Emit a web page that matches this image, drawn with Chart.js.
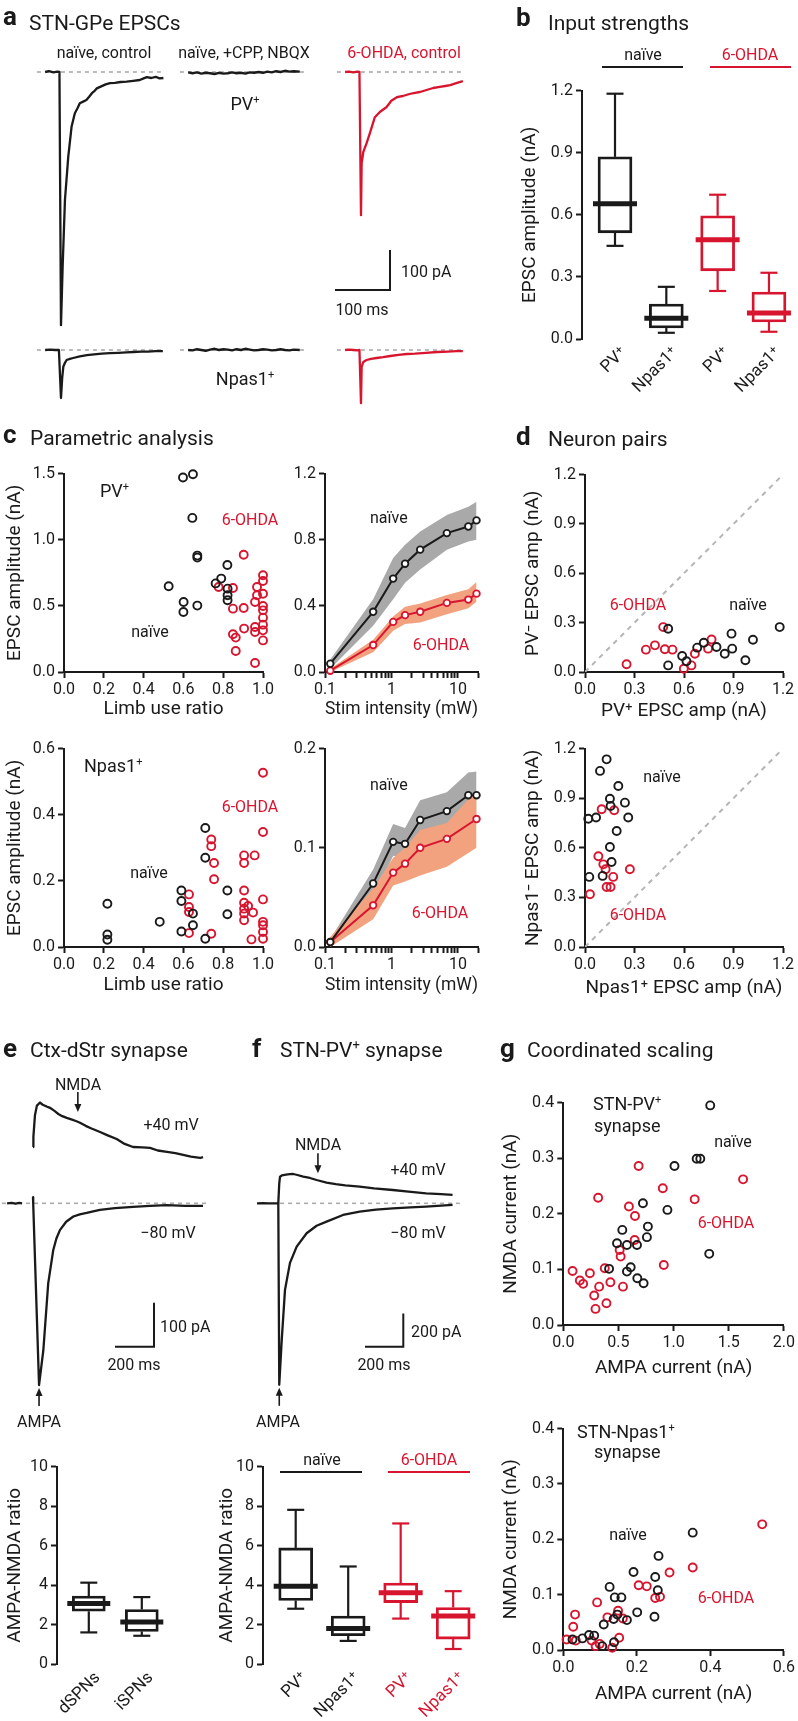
<!DOCTYPE html>
<html>
<head>
<meta charset="utf-8">
<title>STN-GPe synapse figure</title>
<script src="https://cdn.jsdelivr.net/npm/chart.js@4.4.1/dist/chart.umd.min.js"></script>
<style>
html, body { margin:0; padding:0; background:#fff; }
#root { position:relative; width:798px; height:1721px; overflow:hidden; background:#fff; }
#root canvas { position:absolute; }
#ann { position:absolute; left:0; top:0; z-index:5; pointer-events:none; }
</style>
</head>
<body>
<div id="root">
<svg id="ann" width="798" height="1721" viewBox="0 0 798 1721" font-family="Roboto, sans-serif" fill="#1a1a1a">
<g font-weight="bold" font-size="26">
<text x="3" y="25">a</text>
<text x="516" y="26">b</text>
<text x="3" y="443">c</text>
<text x="516" y="445">d</text>
<text x="3" y="1057">e</text>
<text x="252" y="1057">f</text>
<text x="500" y="1057">g</text>
</g>
<g font-size="21">
<text x="29" y="30">STN-GPe EPSCs</text>
<text x="548" y="30">Input strengths</text>
<text x="30" y="445">Parametric analysis</text>
<text x="548" y="446">Neuron pairs</text>
<text x="30" y="1057">Ctx-dStr synapse</text>
<text x="280" y="1057">STN-PV<tspan font-size="13" dy="-8">+</tspan><tspan dy="8"> synapse</tspan></text>
<text x="527" y="1057">Coordinated scaling</text>
</g>
<g font-size="16" text-anchor="middle">
<text x="104" y="58">naïve, control</text>
<text x="244" y="58">naïve, +CPP, NBQX</text>
<text x="404" y="58" fill="#d8152f">6-OHDA, control</text>
<text x="245" y="110" font-size="18">PV<tspan font-size="11" dy="-7">+</tspan></text>
<text x="245" y="385" font-size="18">Npas1<tspan font-size="11" dy="-7">+</tspan></text>
<text x="362" y="315">100 ms</text>
<text x="401" y="277" text-anchor="start">100 pA</text>

<text x="643" y="60">naïve</text>
<text x="750" y="60" fill="#d8152f">6-OHDA</text>

<text x="100" y="497" font-size="18" text-anchor="start">PV<tspan font-size="11" dy="-7">+</tspan></text>
<text x="250" y="525" fill="#d8152f">6-OHDA</text>
<text x="150" y="637">naïve</text>
<text x="370" y="523" text-anchor="start">naïve</text>
<text x="441" y="650" fill="#d8152f">6-OHDA</text>

<text x="84" y="772" font-size="18" text-anchor="start">Npas1<tspan font-size="11" dy="-7">+</tspan></text>
<text x="250" y="812" fill="#d8152f">6-OHDA</text>
<text x="149" y="878">naïve</text>
<text x="370" y="790" text-anchor="start">naïve</text>
<text x="440" y="918" fill="#d8152f">6-OHDA</text>

<text x="638" y="610" fill="#d8152f">6-OHDA</text>
<text x="748" y="610">naïve</text>
<text x="662" y="782">naïve</text>
<text x="638" y="920" fill="#d8152f">6-OHDA</text>

<text x="78" y="1090">NMDA</text>
<text x="171" y="1130">+40 mV</text>
<text x="168" y="1238">−80 mV</text>
<text x="160" y="1332" text-anchor="start">100 pA</text>
<text x="134" y="1370">200 ms</text>
<text x="39" y="1427">AMPA</text>

<text x="318" y="1150">NMDA</text>
<text x="418" y="1175">+40 mV</text>
<text x="418" y="1238">−80 mV</text>
<text x="411" y="1337" text-anchor="start">200 pA</text>
<text x="384" y="1370">200 ms</text>
<text x="278" y="1427">AMPA</text>

<text x="322" y="1465">naïve</text>
<text x="429" y="1465" fill="#d8152f">6-OHDA</text>

<text x="593" y="1110" font-size="18" text-anchor="start">STN-PV<tspan font-size="11" dy="-7">+</tspan></text>
<text x="594" y="1132" font-size="18" text-anchor="start">synapse</text>
<text x="733" y="1147">naïve</text>
<text x="726" y="1228" fill="#d8152f">6-OHDA</text>

<text x="577" y="1438" font-size="18" text-anchor="start">STN-Npas1<tspan font-size="11" dy="-7">+</tspan></text>
<text x="594" y="1458" font-size="18" text-anchor="start">synapse</text>
<text x="628" y="1540">naïve</text>
<text x="726" y="1603" fill="#d8152f">6-OHDA</text>
</g>
<g stroke-width="2.2">
<line x1="602" y1="67" x2="683" y2="67" stroke="#1a1a1a"/>
<line x1="710" y1="67" x2="791" y2="67" stroke="#d8152f"/>
<line x1="280" y1="1472" x2="362" y2="1472" stroke="#1a1a1a"/>
<line x1="388" y1="1472" x2="470" y2="1472" stroke="#d8152f"/>
</g>
</svg>
</div>
<script>
// ======================= DATA =======================
// --- Panel a: example EPSC traces (time in ms from stimulus, current in pA)
const aPvNaiveT = [-27,-20,-12,-5,-1,1.8,4.8,9,15,21,27,32,36,42,48,53,58,63,67,75,83,91,100,110,121,133,145,152,158,166,174,181,188];
const aPvNaiveI = [0,2,-1,1,0,-633,-487,-320,-212,-137,-103,-90,-78,-74,-70,-62,-53,-47,-41,-36,-31,-28,-27,-25,-24,-22,-20,-16,-13,-15,-12,-16,-15];
const aCppT     = [-27,-19,-11,-3,5,13,21,29,37,45,53,61,69,77,85,93,101,109,117,125,133,141,149,157,165,176];
const aPvCppI   = [-1,-3,-1,-4,-2,-3,-5,-2,-4,-3,-1,-3,-2,-4,-1,-2,0,-2,1,-1,2,0,3,1,2,1];
const aNpCppI   = [0,-1,2,0,-2,1,3,0,2,1,-1,2,0,3,1,-1,0,2,1,-1,0,2,0,-1,1,0];
const aPvOhdaT  = [-27,-20,-12,-5,-1,1.8,3,6,12,18,27,36,48,57,67,78,90,100,109,121,133,145,155,164,175,187];
const aPvOhdaI  = [0,1,-1,1,0,-358,-228,-200,-178,-153,-113,-100,-88,-72,-63,-60,-55,-52,-50,-45,-40,-37,-35,-33,-28,-23];
const aNpNaiveT = [-27,-18,-9,-2,1.8,4,6,9,12,18,24,36,49,62,76,91,106,121,133,148,160,174,187];
const aNpNaiveI = [0,1,0,0,-120,-70,-42,-32,-25,-22,-20,-16,-13,-11,-9,-8,-7,-6,-5,-4,-4,-3,-3];
const aNpOhdaT  = [-27,-20,-12,-5,-1,1.8,3,6,12,20,30,42,55,70,85,100,120,140,160,175,187];
const aNpOhdaI  = [0,1,0,-1,0,-133,-42,-30,-25,-22,-20,-18,-15,-12,-10,-9,-7,-5,-4,-3,-3];
const aBaseT    = [-42, 190];
const aScaleMs = 100, aScalePA = 100;

// --- Panel b: input strengths (nA), box statistics
const bCats = ['PV⁺', 'Npas1⁺', 'PV⁺', 'Npas1⁺'];
const bLo  = [0.45, 0.03, 0.232, 0.035];
const bQ1  = [0.513, 0.053, 0.329, 0.082];
const bMed = [0.653, 0.10, 0.479, 0.126];
const bQ3  = [0.88, 0.169, 0.595, 0.227];
const bHi  = [1.185, 0.252, 0.697, 0.32];
const bYTicks = [0, 0.3, 0.6, 0.9, 1.2];

// --- Panel c: parametric analysis
const cLimbTicks = [0, 0.2, 0.4, 0.6, 0.8, 1.0];
const cPvYTicks = [0, 0.5, 1.0, 1.5];
const cNpYTicks = [0, 0.2, 0.4, 0.6];
const cPvNaiveX = [0.598,0.648,0.645,0.67,0.67,0.526,0.601,0.6,0.67,0.821,0.79,0.762,0.822,0.822,0.822];
const cPvNaiveY = [1.47,1.495,1.165,0.88,0.865,0.648,0.529,0.454,0.502,0.809,0.706,0.67,0.63,0.58,0.542];
const cPvOhdaX  = [0.903,0.777,0.849,0.849,0.903,0.849,0.863,0.863,0.905,0.96,0.96,0.96,0.96,0.97,0.97,1.0,1.0,1.0,1.0,1.0,1.0,1.0,1.0,1.0];
const cPvOhdaY  = [0.887,0.643,0.635,0.479,0.484,0.285,0.26,0.159,0.328,0.068,0.34,0.302,0.529,0.643,0.58,0.731,0.688,0.592,0.499,0.466,0.411,0.358,0.315,0.239];
const cNpNaiveX = [0.218,0.218,0.218,0.481,0.59,0.59,0.59,0.648,0.648,0.71,0.71,0.71,0.821,0.821];
const cNpNaiveY = [0.131,0.038,0.022,0.076,0.171,0.139,0.047,0.101,0.066,0.36,0.27,0.025,0.171,0.099];
const cNpOhdaX  = [1.0,1.0,1.0,1.0,1.0,1.0,1.0,0.74,0.74,0.754,0.754,0.74,0.628,0.628,0.628,0.628,0.905,0.905,0.958,0.905,0.905,0.905,0.905,0.905,0.925,0.95,0.942];
const cNpOhdaY  = [0.527,0.348,0.144,0.076,0.066,0.045,0.025,0.325,0.305,0.254,0.205,0.04,0.159,0.121,0.106,0.042,0.277,0.254,0.277,0.171,0.134,0.116,0.101,0.081,0.124,0.104,0.023];
// stimulus–response (mW vs nA)
const cStimTicks  = [0.1,0.2,0.3,0.4,0.5,0.6,0.7,0.8,0.9,1,2,3,4,5,6,7,8,9,10,20];
const cStimMajor  = [0.1, 1, 10];
const cPvStimYTicks = [0, 0.4, 0.8, 1.2];
const cNpStimYTicks = [0, 0.1, 0.2];
const cStim       = [0.12, 0.53, 1.06, 1.6, 2.7, 6.8, 14.3, 19];
const cPvNaiveMean = [0.05, 0.364, 0.565, 0.655, 0.74, 0.84, 0.88, 0.917];
const cPvNaiveLo   = [0.02, 0.28, 0.44, 0.54, 0.62, 0.74, 0.79, 0.80];
const cPvNaiveHi   = [0.075, 0.44, 0.69, 0.77, 0.85, 0.95, 1.0, 1.03];
const cPvOhdaMean  = [0.008, 0.163, 0.303, 0.344, 0.364, 0.418, 0.438, 0.474];
const cPvOhdaLo    = [0.0, 0.12, 0.25, 0.29, 0.30, 0.35, 0.385, 0.425];
const cPvOhdaHi    = [0.02, 0.195, 0.335, 0.395, 0.415, 0.465, 0.5, 0.545];
const cNpNaiveMean = [0.005, 0.064, 0.106, 0.104, 0.128, 0.137, 0.153, 0.153];
const cNpNaiveLo   = [0.003, 0.05, 0.092, 0.09, 0.112, 0.118, 0.128, 0.13];
const cNpNaiveHi   = [0.008, 0.078, 0.124, 0.12, 0.148, 0.156, 0.176, 0.177];
const cStimOhdaNp  = [0.12, 0.53, 1.06, 1.6, 2.7, 6.8, 19];
const cNpOhdaMean  = [0.005, 0.042, 0.075, 0.084, 0.1, 0.109, 0.129];
const cNpOhdaLo    = [0.0, 0.028, 0.062, 0.066, 0.072, 0.081, 0.1];
const cNpOhdaHi    = [0.01, 0.059, 0.09, 0.1, 0.118, 0.125, 0.158];

// --- Panel d: neuron pairs (nA)
const dTicks = [0, 0.3, 0.6, 0.9, 1.2];
const dUnity = [0, 1.2];
const dPvNaiveX = [0.504,0.504,0.589,0.615,0.68,0.72,0.797,0.847,0.888,0.892,0.972,1.018,1.18];
const dPvNaiveY = [0.263,0.04,0.097,0.065,0.148,0.178,0.152,0.111,0.233,0.142,0.071,0.196,0.273];
const dPvOhdaX  = [0.252,0.369,0.424,0.474,0.484,0.53,0.599,0.645,0.666,0.746,0.767];
const dPvOhdaY  = [0.047,0.136,0.162,0.273,0.138,0.136,0.02,0.04,0.111,0.142,0.198];
const dNpNaiveX = [0.02,0.067,0.091,0.131,0.026,0.107,0.151,0.155,0.202,0.242,0.262,0.192,0.151,0.161];
const dNpNaiveY = [0.776,0.783,1.065,1.135,0.424,0.43,0.897,0.853,0.974,0.873,0.783,0.702,0.605,0.514];
const dNpOhdaX  = [0.03,0.101,0.177,0.081,0.111,0.125,0.131,0.155,0.171,0.272];
const dNpOhdaY  = [0.319,0.833,0.827,0.549,0.5,0.47,0.363,0.363,0.424,0.47];

// --- Panel e: Ctx-dStr traces (ms, pA) and AMPA-NMDA ratios
const ePlusT = [0,2,10,20,36,50,70,87,110,130,150,173,200,220,241,270,300,344,380,429,470,513,560,600,640,687,730,770,810,857,872];
const ePlusI = [128,151,200,222,229,224,220,217,210,203,198,194,190,187,183,176,170,162,155,146,135,128,127,126,120,117,114,110,106,103,105];
const eM80T  = [-133,-110,-90,-70,-56,-30,0,1,31,53,78,104,120,138,170,207,240,275,343,420,513,600,687,780,872];
const eM80I  = [0,1,-1,1,0,null,14,0,-413,-334,-182,-106,-80,-61,-42,-30,-25,-22,-15,-11,-8,-6,-4,-6,-6];
const eBaseT = [-159, 908];
const eNmdaT = 230, eAmpaT = 31;
const eScaleMs = 200, eScalePA = 100;
const eCats = ['dSPNs', 'iSPNs'];
const eLo  = [1.6, 1.43];
const eQ1  = [2.67, 1.65];
const eMed = [3.07, 2.13];
const eQ3  = [3.44, 2.76];
const eHi  = [4.12, 3.39];
const ratioTicks = [0, 2, 4, 6, 8, 10];

// --- Panel f: STN-PV+ traces and ratios
const fPlusT = [0,5,9,20,40,60,78,100,130,165,200,252,300,350,425,500,598,680,772,850,910];
const fPlusI = [0,120,160,168,172,175,176,170,160,152,140,124,115,108,100,90,80,70,60,55,50];
const fM80T  = [-111,-80,-50,-20,0,5,18,35,61,96,148,200,252,338,425,510,598,690,772,850,910];
const fM80I  = [0,1,0,-1,0,-1090,-820,-520,-358,-260,-180,-135,-110,-70,-50,-38,-30,-25,-20,-14,-10];
const fBaseT = [9, 948];
const fNmdaT = 207, fAmpaT = 5;
const fScaleMs = 200, fScalePA = 200;
const fCats = ['PV⁺', 'Npas1⁺', 'PV⁺', 'Npas1⁺'];
const fLo  = [2.8, 1.17, 2.3, 0.76];
const fQ1  = [3.22, 1.43, 3.11, 1.26];
const fMed = [3.94, 1.8, 3.61, 2.43];
const fQ3  = [5.88, 2.43, 4.1, 2.86];
const fHi  = [7.81, 4.94, 7.12, 3.69];

// --- Panel g: coordinated scaling (nA)
const gPvXTicks = [0, 0.5, 1.0, 1.5, 2.0];
const gNpXTicks = [0, 0.2, 0.4, 0.6];
const gYTicks   = [0, 0.1, 0.2, 0.3, 0.4];
const gPvNaiveX = [1.332,1.209,1.242,1.008,0.944,1.323,0.722,0.767,0.758,0.535,0.487,0.577,0.668,0.415,0.611,0.577,0.671,0.728];
const gPvNaiveY = [0.395,0.299,0.299,0.286,0.207,0.128,0.219,0.177,0.158,0.171,0.147,0.144,0.144,0.101,0.104,0.096,0.084,0.075];
const gPvOhdaX  = [0.084,0.15,0.18,0.241,0.316,0.28,0.325,0.292,0.376,0.391,0.427,0.511,0.52,0.541,0.595,0.65,0.647,0.683,0.902,0.911,1.191,1.63];
const gPvOhdaY  = [0.097,0.08,0.074,0.093,0.229,0.053,0.069,0.029,0.102,0.039,0.077,0.135,0.123,0.069,0.213,0.196,0.153,0.286,0.246,0.108,0.226,0.262];
const gNpNaiveX = [0.352,0.259,0.257,0.25,0.248,0.191,0.201,0.173,0.126,0.14,0.158,0.147,0.137,0.11,0.138,0.106,0.07,0.084,0.052,0.025];
const gNpNaiveY = [0.212,0.17,0.108,0.132,0.06,0.141,0.068,0.054,0.114,0.095,0.095,0.064,0.056,0.046,0.014,0.007,0.027,0.026,0.021,0.019];
const gNpOhdaX  = [0.541,0.352,0.289,0.205,0.227,0.25,0.263,0.092,0.032,0.027,0.12,0.149,0.162,0.009,0.034,0.077,0.088,0.099,0.133,0.152];
const gNpOhdaY  = [0.227,0.149,0.14,0.117,0.115,0.094,0.096,0.086,0.064,0.042,0.059,0.071,0.057,0.019,0.017,0.017,0.007,0.011,0.004,0.022];

// ======================= STYLE / HELPERS =======================
const INK = '#1a1a1a', RED = '#d8152f', DASH = '#ababab', GRAYBAND = '#a9a9a9', ORANGEBAND = '#f2a27f';
Chart.defaults.font.family = 'Roboto, "Open Sans", sans-serif';
Chart.defaults.color = INK;
Chart.defaults.plugins.legend.display = false;
Chart.defaults.plugins.tooltip.enabled = false;
Chart.defaults.animation = false;

const root = document.getElementById('root');
function mkCanvas(l, t, w, h) {
  const c = document.createElement('canvas');
  c.width = w; c.height = h;
  c.style.left = l + 'px'; c.style.top = t + 'px';
  c.style.width = w + 'px'; c.style.height = h + 'px';
  root.appendChild(c);
  return c;
}
function fitGeo(area, pad) {
  const left = Math.round(area.l - pad.yw), top = Math.round(area.t - pad.top);
  const w = Math.round(area.r - left + pad.right), h = Math.round(area.b - top + pad.xh);
  return {left, top, w, h, yw: area.l - left, tp: area.t - top, rp: w - (area.r - left), xh: h - (area.b - top)};
}
const fmt1 = v => Number(v).toFixed(1);
const fmt0 = v => String(Math.round(v));
function axis(o) {
  const horiz = o.pos === 'bottom';
  const marks = o.marks !== false;
  return {
    type: o.type || 'linear', position: o.pos, min: o.min, max: o.max, offset: false,
    afterFit: s => { if (horiz) s.height = o.size; else s.width = o.size; },
    afterBuildTicks: s => { s.ticks = o.ticks.map(v => ({value: v})); },
    border: {display: o.line !== false, color: INK, width: 2},
    grid: {display: marks, drawOnChartArea: false, drawTicks: marks, tickLength: 6, tickWidth: 2, tickColor: INK},
    ticks: {
      autoSkip: false, font: {size: o.fsize || 16}, padding: o.tpad !== undefined ? o.tpad : 3,
      color: o.tickColors ? (ctx => o.tickColors[ctx.index] || INK) : INK,
      maxRotation: o.rot || 0, minRotation: o.rot || 0, labelOffset: o.loff || 0,
      callback: (v, i) => o.labels ? o.labels[i] : o.fmt(v)
    },
    title: {display: !!o.title, text: o.title || '', font: {size: 19}, color: INK, padding: 0}
  };
}
const xy = (xs, ys) => xs.map((v, i) => ({x: v, y: ys[i]}));
function dots(xs, ys, color) {
  return {type: 'scatter', data: xy(xs, ys), pointRadius: 4, pointBorderWidth: 1.9, pointBorderColor: color,
          pointBackgroundColor: 'rgba(0,0,0,0)', showLine: false, clip: false, order: 0};
}
function meanLine(xs, ys, color) {
  return {type: 'line', data: xy(xs, ys), borderColor: color, borderWidth: 2, pointRadius: 3.3, pointBorderWidth: 1.8,
          pointBorderColor: color, pointBackgroundColor: '#fff', fill: false, clip: false, order: 0, tension: 0};
}
function bandHi(xs, ys, color, order) {
  return {type: 'line', data: xy(xs, ys), borderWidth: 0, borderColor: 'rgba(0,0,0,0)', pointRadius: 0,
          fill: '+1', backgroundColor: color, order: order, tension: 0};
}
function bandLo(xs, ys, order) {
  return {type: 'line', data: xy(xs, ys), borderWidth: 0, borderColor: 'rgba(0,0,0,0)', pointRadius: 0,
          fill: false, order: order, tension: 0};
}
function plotChart(area, pad, xo, yo, datasets) {
  const g = fitGeo(area, pad);
  const c = mkCanvas(g.left, g.top, g.w, g.h);
  return new Chart(c, {
    type: 'scatter', data: {datasets},
    options: {
      responsive: false, animation: false, devicePixelRatio: 1,
      layout: {padding: {left: 0, top: g.tp, right: g.rp, bottom: 0}},
      scales: {x: axis(Object.assign({pos: 'bottom', size: g.xh}, xo)), y: axis(Object.assign({pos: 'left', size: g.yw}, yo))}
    }
  });
}
function boxChart(area, pad, st, colors, tickColors, yo, xr, bw) {
  const g = fitGeo(area, pad);
  const c = mkCanvas(g.left, g.top, g.w, g.h);
  const idx = st.cats.map((_, i) => i);
  const extras = {
    id: 'boxExtras',
    afterDatasetsDraw(chart) {
      const {ctx, scales: {x, y}} = chart;
      const seg = (x1, y1, x2, y2, w, col) => { ctx.beginPath(); ctx.strokeStyle = col; ctx.lineWidth = w; ctx.moveTo(x1, y1); ctx.lineTo(x2, y2); ctx.stroke(); };
      ctx.save(); ctx.lineCap = 'butt';
      idx.forEach(i => {
        const cx = x.getPixelForValue(i), col = colors[i];
        const pHi = y.getPixelForValue(st.hi[i]), pLo = y.getPixelForValue(st.lo[i]);
        seg(cx, y.getPixelForValue(st.q3[i]), cx, pHi, 2.2, col);
        seg(cx, y.getPixelForValue(st.q1[i]), cx, pLo, 2.2, col);
        seg(cx - 8.5, pHi, cx + 8.5, pHi, 2.2, col);
        seg(cx - 8.5, pLo, cx + 8.5, pLo, 2.2, col);
        const pm = y.getPixelForValue(st.med[i]);
        seg(cx - bw / 2 - 5, pm, cx + bw / 2 + 5, pm, 5, col);
      });
      ctx.restore();
    }
  };
  return new Chart(c, {
    type: 'bar',
    data: {datasets: [{
      data: idx.map(i => ({x: i, y: [st.q1[i], st.q3[i]]})),
      backgroundColor: 'rgba(255,255,255,0)', borderColor: colors, borderWidth: 2.2, borderSkipped: false,
      barThickness: bw
    }]},
    options: {
      responsive: false, animation: false, devicePixelRatio: 1,
      layout: {padding: {left: 0, top: g.tp, right: g.rp, bottom: 0}},
      scales: {
        x: axis({pos: 'bottom', size: g.xh, min: xr[0], max: xr[1], ticks: idx, labels: st.cats, marks: false, line: false,
                 rot: 45, loff: 9, tpad: 4, fsize: 17, tickColors: tickColors}),
        y: axis(Object.assign({pos: 'left', size: g.yw}, yo))
      }
    },
    plugins: [extras]
  });
}
function trace(ts, is, color, width) {
  return {data: xy(ts, is), borderColor: color, borderWidth: width || 2.3, pointRadius: 0, fill: false, spanGaps: false,
          borderJoinStyle: 'round', tension: 0, order: 1};
}
function baseline(ts) {
  return {data: ts.map(t => ({x: t, y: 0})), borderColor: DASH, borderWidth: 1.6, borderDash: [4, 4], pointRadius: 0, fill: false, order: 5};
}
function scaleBar(t0, i0, dt, di) {
  return {data: [{x: t0, y: i0}, {x: t0 + dt, y: i0}, {x: t0 + dt, y: i0 + di}], borderColor: INK, borderWidth: 2,
          pointRadius: 0, fill: false, order: 1, borderJoinStyle: 'miter'};
}
function arrowPlugin(list) {
  return {
    id: 'arrows',
    afterDatasetsDraw(chart) {
      const {ctx, scales: {x, y}} = chart;
      ctx.save(); ctx.strokeStyle = INK; ctx.fillStyle = INK; ctx.lineWidth = 1.6;
      list.forEach(a => {
        const px = x.getPixelForValue(a.t);
        const tipY = y.getPixelForValue(a.at) + (a.dir === 'down' ? -a.gap : a.gap);
        const s = a.dir === 'down' ? -1 : 1;
        const tailY = tipY + s * a.len;
        ctx.beginPath(); ctx.moveTo(px, tailY); ctx.lineTo(px, tipY + s * 6); ctx.stroke();
        ctx.beginPath(); ctx.moveTo(px - 3.5, tipY + s * 8); ctx.lineTo(px + 3.5, tipY + s * 8); ctx.lineTo(px, tipY); ctx.closePath(); ctx.fill();
      });
      ctx.restore();
    }
  };
}
function traceChart(box, geo, sets, arrows) {
  const c = mkCanvas(box.l, box.t, box.w, box.h);
  const xmin = (box.l - geo.x0) * geo.ms, xmax = (box.l + box.w - geo.x0) * geo.ms;
  const ymax = (geo.y0 - box.t) * geo.pa, ymin = (geo.y0 - box.t - box.h) * geo.pa;
  return new Chart(c, {
    type: 'line', data: {datasets: sets},
    options: {
      responsive: false, animation: false, devicePixelRatio: 1, layout: {padding: 0},
      scales: {x: {type: 'linear', display: false, min: xmin, max: xmax}, y: {type: 'linear', display: false, min: ymin, max: ymax}}
    },
    plugins: arrows ? [arrowPlugin(arrows)] : []
  });
}

// ======================= PANEL a =======================
const aGeo = (x0, y0) => ({x0, y0, ms: 100 / 55, pa: 100 / 40});
traceChart({l: 30, t: 60, w: 145, h: 272}, aGeo(60, 72), [baseline(aBaseT), trace(aPvNaiveT, aPvNaiveI, INK)]);
traceChart({l: 178, t: 60, w: 127, h: 24}, aGeo(203, 72), [baseline(aBaseT), trace(aCppT, aPvCppI, INK, 2.4)]);
(function () {
  const g = aGeo(360, 72);
  traceChart({l: 330, t: 60, w: 140, h: 240}, g, [baseline(aBaseT), trace(aPvOhdaT, aPvOhdaI, RED),
    scaleBar((335 - g.x0) * g.ms, -(290 - g.y0) * g.pa, aScaleMs, aScalePA)]);
})();
traceChart({l: 30, t: 340, w: 145, h: 65}, aGeo(60, 350), [baseline(aBaseT), trace(aNpNaiveT, aNpNaiveI, INK)]);
traceChart({l: 178, t: 338, w: 127, h: 24}, aGeo(203, 350), [baseline(aBaseT), trace(aCppT, aNpCppI, INK, 2.4)]);
traceChart({l: 330, t: 340, w: 140, h: 70}, aGeo(360, 350), [baseline(aBaseT), trace(aNpOhdaT, aNpOhdaI, RED)]);

// ======================= PANEL b =======================
boxChart({l: 582, t: 90, r: 790, b: 339}, {yw: 63.4, xh: 75, top: 12, right: 6},
  {cats: bCats, lo: bLo, q1: bQ1, med: bMed, q3: bQ3, hi: bHi}, [INK, INK, RED, RED], [INK, INK, INK, INK],
  {min: 0, max: 1.2, ticks: bYTicks, fmt: fmt1, title: 'EPSC amplitude (nA)'}, [-0.643, 3.41], 34);

// ======================= PANEL c =======================
plotChart({l: 64, t: 473, r: 263, b: 672}, {yw: 60.4, xh: 49, top: 12, right: 14},
  {min: 0, max: 1, ticks: cLimbTicks, fmt: fmt1, title: 'Limb use ratio', tpad: 2},
  {min: 0, max: 1.5, ticks: cPvYTicks, fmt: fmt1, title: 'EPSC amplitude (nA)'},
  [dots(cPvNaiveX, cPvNaiveY, INK), dots(cPvOhdaX, cPvOhdaY, RED)]);
plotChart({l: 64, t: 748, r: 263, b: 947}, {yw: 60.4, xh: 49.5, top: 12, right: 14},
  {min: 0, max: 1, ticks: cLimbTicks, fmt: fmt1, title: 'Limb use ratio', tpad: 2},
  {min: 0, max: 0.6, ticks: cNpYTicks, fmt: fmt1, title: 'EPSC amplitude (nA)'},
  [dots(cNpNaiveX, cNpNaiveY, INK), dots(cNpOhdaX, cNpOhdaY, RED)]);
const stimFmt = v => (cStimMajor.indexOf(v) >= 0 ? String(v) : '');
plotChart({l: 325, t: 473, r: 478, b: 672}, {yw: 40, xh: 49, top: 12, right: 14},
  {type: 'logarithmic', min: 0.1, max: 20, ticks: cStimTicks, fmt: stimFmt, title: 'Stim intensity (mW)', tpad: 2},
  {min: 0, max: 1.2, ticks: cPvStimYTicks, fmt: fmt1},
  [meanLine(cStim, cPvNaiveMean, INK), meanLine(cStim, cPvOhdaMean, RED),
   bandHi(cStim, cPvNaiveHi, GRAYBAND, 3), bandLo(cStim, cPvNaiveLo, 3),
   bandHi(cStim, cPvOhdaHi, ORANGEBAND, 2), bandLo(cStim, cPvOhdaLo, 2)]);
plotChart({l: 325, t: 748, r: 478, b: 947}, {yw: 40, xh: 49.5, top: 12, right: 14},
  {type: 'logarithmic', min: 0.1, max: 20, ticks: cStimTicks, fmt: stimFmt, title: 'Stim intensity (mW)', tpad: 2},
  {min: 0, max: 0.2, ticks: cNpStimYTicks, fmt: fmt1},
  [meanLine(cStim, cNpNaiveMean, INK), meanLine(cStimOhdaNp, cNpOhdaMean, RED),
   bandHi(cStim, cNpNaiveHi, GRAYBAND, 3), bandLo(cStim, cNpNaiveLo, 3),
   bandHi(cStimOhdaNp, cNpOhdaHi, ORANGEBAND, 2), bandLo(cStimOhdaNp, cNpOhdaLo, 2)]);

// ======================= PANEL d =======================
const unity = () => ({type: 'line', data: xy(dUnity, dUnity), borderColor: '#b5b5b5', borderWidth: 2, borderDash: [5, 5], pointRadius: 0, fill: false, order: 5});
plotChart({l: 585, t: 474, r: 783, b: 672}, {yw: 63.4, xh: 51.4, top: 12, right: 14},
  {min: 0, max: 1.2, ticks: dTicks, fmt: fmt1, title: 'PV⁺ EPSC amp (nA)', tpad: 2},
  {min: 0, max: 1.2, ticks: dTicks, fmt: fmt1, title: 'PV⁻ EPSC amp (nA)'},
  [unity(), dots(dPvNaiveX, dPvNaiveY, INK), dots(dPvOhdaX, dPvOhdaY, RED)]);
plotChart({l: 585, t: 748, r: 783, b: 947}, {yw: 63.4, xh: 52.7, top: 12, right: 14},
  {min: 0, max: 1.2, ticks: dTicks, fmt: fmt1, title: 'Npas1⁺ EPSC amp (nA)', tpad: 2},
  {min: 0, max: 1.2, ticks: dTicks, fmt: fmt1, title: 'Npas1⁻ EPSC amp (nA)'},
  [unity(), dots(dNpNaiveX, dNpNaiveY, INK), dots(dNpOhdaX, dNpOhdaY, RED)]);

// ======================= PANEL e =======================
(function () {
  const g = {x0: 33, y0: 1203.3, ms: 200 / 39, pa: 100 / 44};
  traceChart({l: 0, t: 1075, w: 218, h: 340}, g,
    [baseline(eBaseT), trace(ePlusT, ePlusI, INK), trace(eM80T, eM80I, INK),
     scaleBar((115 - g.x0) * g.ms, -(1346.7 - g.y0) * g.pa, eScaleMs, eScalePA)],
    [{t: eNmdaT, at: 185, dir: 'down', gap: 10, len: 20}, {t: eAmpaT, at: -413, dir: 'up', gap: 3, len: 18}]);
})();
boxChart({l: 57, t: 1466, r: 173.6, b: 1664}, {yw: 53.4, xh: 57, top: 12, right: 8},
  {cats: eCats, lo: eLo, q1: eQ1, med: eMed, q3: eQ3, hi: eHi}, [INK, INK], [INK, INK],
  {min: 0, max: 10, ticks: ratioTicks, fmt: fmt0, title: 'AMPA-NMDA ratio'}, [-0.6, 1.6], 33);

// ======================= PANEL f =======================
(function () {
  const g = {x0: 278.3, y0: 1203.3, ms: 200 / 38.3, pa: 200 / 33.3};
  traceChart({l: 250, t: 1140, w: 218, h: 275}, g,
    [baseline(fBaseT), trace(fPlusT, fPlusI, INK), trace(fM80T, fM80I, INK),
     scaleBar((365 - g.x0) * g.ms, -(1346.7 - g.y0) * g.pa, fScaleMs, fScalePA)],
    [{t: fNmdaT, at: 138, dir: 'down', gap: 7, len: 20}, {t: fAmpaT, at: -1090, dir: 'up', gap: 3, len: 18}]);
})();
boxChart({l: 263, t: 1466, r: 474.7, b: 1664}, {yw: 47.4, xh: 57, top: 12, right: 8},
  {cats: fCats, lo: fLo, q1: fQ1, med: fMed, q3: fQ3, hi: fHi}, [INK, INK, RED, RED], [INK, INK, RED, RED],
  {min: 0, max: 10, ticks: ratioTicks, fmt: fmt0, title: 'AMPA-NMDA ratio'}, [-0.623, 3.41], 34);

// ======================= PANEL g =======================
plotChart({l: 563.3, t: 1102.3, r: 785, b: 1325}, {yw: 63, xh: 55.4, top: 12, right: 12},
  {min: 0, max: 2, ticks: gPvXTicks, fmt: fmt1, title: 'AMPA current (nA)', tpad: 2},
  {min: 0, max: 0.4, ticks: gYTicks, fmt: fmt1, title: 'NMDA current (nA)'},
  [dots(gPvNaiveX, gPvNaiveY, INK), dots(gPvOhdaX, gPvOhdaY, RED)]);
plotChart({l: 563.3, t: 1428.3, r: 785, b: 1650}, {yw: 63, xh: 56.4, top: 12, right: 12},
  {min: 0, max: 0.6, ticks: gNpXTicks, fmt: fmt1, title: 'AMPA current (nA)', tpad: 2},
  {min: 0, max: 0.4, ticks: gYTicks, fmt: fmt1, title: 'NMDA current (nA)'},
  [dots(gNpNaiveX, gNpNaiveY, INK), dots(gNpOhdaX, gNpOhdaY, RED)]);
</script>
</body>
</html>
